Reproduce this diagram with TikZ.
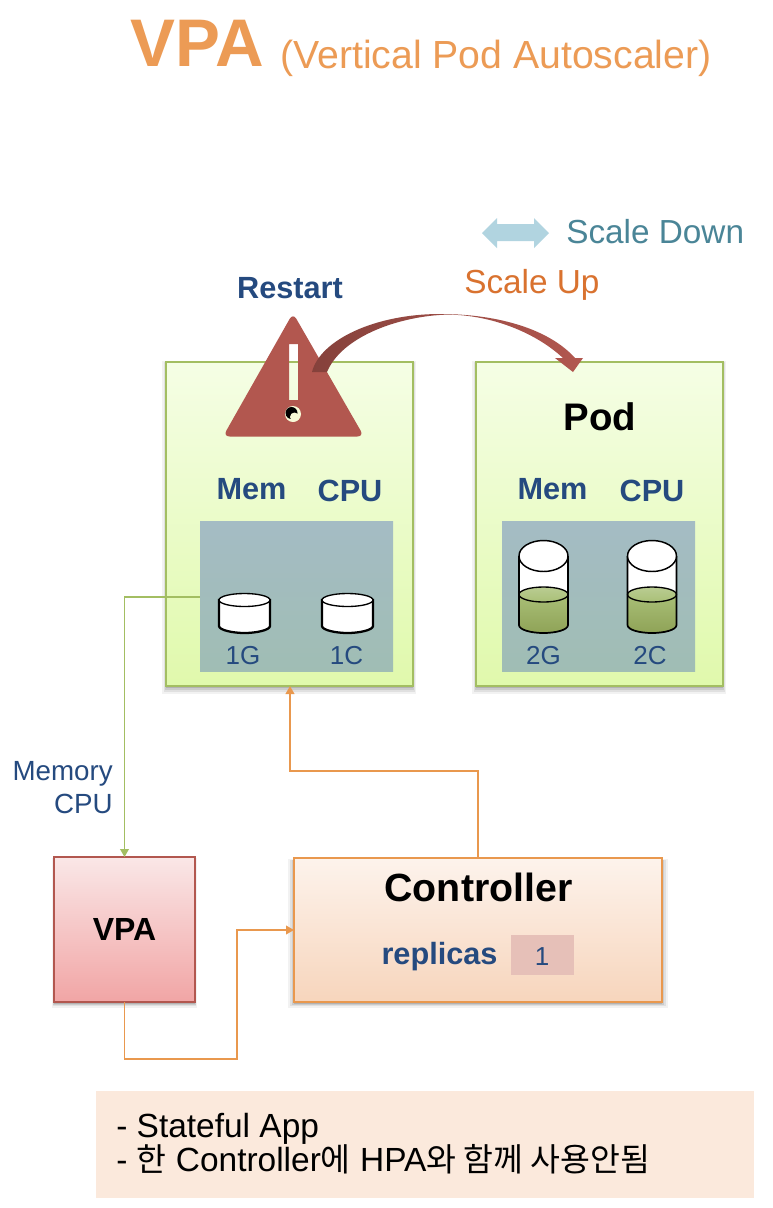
\documentclass[tikz,border=0pt]{standalone}
\usepackage{fontspec}
\setmainfont{Liberation Sans}
\newfontfamily\cjk[Scale=0.97]{Noto Sans CJK KR}
\usetikzlibrary{arrows.meta,shadows,calc}
\definecolor{navy}{HTML}{254A7F}
\definecolor{orangeT}{HTML}{EC9B55}
\definecolor{orangeL}{HTML}{E9984E}
\definecolor{greenL}{HTML}{A3BE62}
\definecolor{redL}{HTML}{B2574F}
\definecolor{tealT}{HTML}{4A8597}
\definecolor{scaleup}{HTML}{D9722F}
\definecolor{liqA}{HTML}{BACD92}
\definecolor{liqB}{HTML}{8FA357}
\definecolor{liqC}{HTML}{A9BF77}
\definecolor{podTop}{HTML}{F5FEE5}
\definecolor{podBot}{HTML}{E0F9AC}
\definecolor{panelTop}{HTML}{A4BCC4}
\definecolor{panelBot}{HTML}{A0BDB4}
\definecolor{vpaTop}{HTML}{FAE7E7}
\definecolor{vpaBot}{HTML}{F1A5A5}
\definecolor{ctrlTop}{HTML}{FDF3EC}
\definecolor{ctrlBot}{HTML}{F7D5BC}
\definecolor{repFill}{HTML}{E6C0B8}
\definecolor{noteFill}{HTML}{FBE9DC}
\definecolor{legendFill}{HTML}{B1D4E0}
\definecolor{cream}{HTML}{F8FAD7}
\tikzset{
  x=0.75pt,y=-0.75pt,
  softshadow/.style={
    drop shadow={shadow xshift=0pt,shadow yshift=-2.6pt,shadow scale=1.03,opacity=.05,fill=black},
    drop shadow={shadow xshift=0pt,shadow yshift=-2.2pt,shadow scale=1.02,opacity=.07,fill=black},
    drop shadow={shadow xshift=0pt,shadow yshift=-1.8pt,shadow scale=1.01,opacity=.09,fill=black},
    drop shadow={shadow xshift=0pt,shadow yshift=-1.4pt,shadow scale=1.0,opacity=.12,fill=black}},
  boxbase/.style={line width=1.5pt,softshadow,inner sep=0,outer sep=0,anchor=north west},
  podbox/.style={boxbase,draw=greenL,top color=podTop,bottom color=podBot,minimum width=185pt,minimum height=243pt},
  panelbox/.style={inner sep=0,outer sep=0,anchor=north west,top color=panelTop,bottom color=panelBot,minimum width=144.75pt,minimum height=112.5pt},
  hlabel/.style={font=\bfseries\fontsize{23}{26}\selectfont,text=navy,inner sep=0,anchor=base},
  vlabel/.style={font=\fontsize{19.5}{22}\selectfont,text=navy,inner sep=0,anchor=base},
  flow/.style={line width=1.2pt,-{Triangle[length=6pt,width=6.5pt]}},
  bigcap/.style={font=\bfseries\fontsize{#1}{#1}\selectfont,text=black,inner sep=0,anchor=base}
}
\newcommand{\smallcyl}[2]{%
  \draw[black,line width=1.7pt,fill=white] (#1-25.5,#2) -- (#1-25.5,#2+26) .. controls (#1-25.5,#2+30) and (#1-12,#2+33) .. (#1,#2+33) .. controls (#1+12,#2+33) and (#1+25.5,#2+30) .. (#1+25.5,#2+26) -- (#1+25.5,#2) -- cycle;
  \draw[black,line width=1pt,fill=white] (#1,#2) ellipse[x radius=25.5,y radius=6.5];
}
\newcommand{\tallcyl}[2]{%
  \path[fill=white] (#1-24.5,556) rectangle (#1+24.5,595);
  \path[top color=liqC,bottom color=liqB] (#1-24.5,594) -- (#1-24.5,625) .. controls (#1-24.5,630) and (#1-12,633) .. (#1,633) .. controls (#1+12,633) and (#1+24.5,630) .. (#1+24.5,625) -- (#1+24.5,594) -- cycle;
  \draw[black,line width=1pt,top color=liqA,bottom color=liqC] (#1,594.5) ellipse[x radius=24.5,y radius=7.5];
  \draw[black,line width=1.3pt] (#1-24.5,556) -- (#1-24.5,625) .. controls (#1-24.5,630) and (#1-12,633) .. (#1,633) .. controls (#1+12,633) and (#1+24.5,630) .. (#1+24.5,625) -- (#1+24.5,556);
  \draw[black,line width=1.1pt,fill=white] (#1,556) ellipse[x radius=24.5,y radius=15.5];
}
\begin{document}
\begin{tikzpicture}
\useasboundingbox[fill=white] (0,0) rectangle (772,1208);
% title
\node[inner sep=0,anchor=base west,text=orangeT,font=\bfseries\fontsize{50.5}{52}\selectfont] (t1) at (130,66) {VPA};
\node[inner sep=0,anchor=base west,text=orangeT,font=\fontsize{29.4}{32}\selectfont] (t2) at (280,68) {(Vertical Pod Autoscaler)};
% legend
\fill[legendFill] (482,233) -- (497,218) -- (497,224) -- (534,224) -- (534,218) -- (549,233) -- (534,248) -- (534,241) -- (497,241) -- (497,248) -- cycle;
\node[inner sep=0,anchor=base west,text=tealT,font=\fontsize{25}{28}\selectfont] (sd) at (566,243) {Scale Down};
\node[inner sep=0,anchor=base west,text=scaleup,font=\fontsize{25}{28}\selectfont] (su) at (464,293) {Scale Up};
\node[hlabel] (restart) at (290,298) {Restart};
% pods
\node[podbox] (podA) at (166,362) {};
\node[podbox] (podB) at (476,362) {};
\node[panelbox] (panelA) at (200,521) {};
\node[panelbox] (panelB) at (502,521) {};
\node[bigcap=28.8] (pod) at (600,430) {Pod};
\node[hlabel] (memA) at (251.5,499) {Mem};
\node[hlabel] (cpuA) at (350,501) {CPU};
\node[hlabel] (memB) at (552.5,499) {Mem};
\node[hlabel] (cpuB) at (652,501) {CPU};
\smallcyl{244.5}{600}
\smallcyl{347.5}{600}
\tallcyl{543.5}{0}
\tallcyl{652}{0}
\node[vlabel] (g1) at (243,664) {1G};
\node[vlabel] (c1) at (346.5,664) {1C};
\node[vlabel] (g2) at (543.5,664) {2G};
\node[vlabel] (c2) at (650,664) {2C};
% warning triangle
\fill[redL,even odd rule,rounded corners=5pt] (293,313) -- (364,436.5) -- (223,436.5) -- cycle
  [sharp corners] (289,344) rectangle (298,400);
\fill[cream] (293,414) circle[radius=8];
\fill[black] (291.5,413) circle[radius=6];
\fill[cream] (294.5,417) circle[radius=4.5];
% curved arrow
\path[left color=redL!75!black,middle color=redL!55!white,right color=redL]
  (312,372) .. controls (320,340) and (375,314) .. (440,314)
  .. controls (500,314) and (550,330) .. (575,358) -- (583,358) -- (573,372) -- (555,358) -- (563,358)
  .. controls (535,332) and (490,314.6) .. (447,314.6)
  .. controls (400,316) and (342,336) .. (327,372) -- cycle;
% lower boxes
\node[boxbase,draw=redL,top color=vpaTop,bottom color=vpaBot,minimum width=105.75pt,minimum height=108.75pt] (vpa) at (54,857) {};
\node[bigcap=24] (vpaT) at (124.5,940) {VPA};
\node[boxbase,draw=orangeL,top color=ctrlTop,bottom color=ctrlBot,minimum width=276pt,minimum height=108pt] (ctrl) at (294,858) {};
\node[bigcap=29.5] (ctrlT) at (478.5,901) {Controller};
\node[hlabel] (rep) at (439.5,964) {replicas};
\node[inner sep=0,outer sep=0,anchor=north west,fill=repFill,minimum width=47.25pt,minimum height=30pt] (repbox) at (511,935) {};
\node[vlabel] (one) at (542,965) {1};
% connectors
\coordinate (gs) at (200,597);
\coordinate (o1) at (237,1059);
\coordinate (o2) at (290,771);
\draw[flow,greenL] (gs) -| (vpa.north);
\draw[flow,orangeL] (vpa.south) |- (o1) |- (ctrl.west);
\draw[flow,orangeL] (ctrl.north) |- (o2) -- (o2 |- podA.south);
\node[inner sep=0,anchor=base east,text=navy,font=\fontsize{20.8}{24}\selectfont] (mem) at (113,780) {Memory};
\node[inner sep=0,anchor=base east,text=navy,font=\fontsize{20.8}{24}\selectfont] (cpu) at (113,813) {CPU};
% note
\node[inner sep=0,outer sep=0,anchor=north west,fill=noteFill,minimum width=493.5pt,minimum height=80.25pt] (note) at (96,1091) {};
\node[inner sep=0,anchor=base west,text=black,font=\fontsize{25.1}{30}\selectfont] (n1) at (116,1137) {- Stateful App};
\node[inner sep=0,anchor=base west,text=black,font=\fontsize{25.1}{30}\selectfont] (n2) at (116,1171) {- {\cjk 한} Controller{\cjk 에} HPA{\cjk 와 함께 사용안됨}};
\end{tikzpicture}
\end{document}
